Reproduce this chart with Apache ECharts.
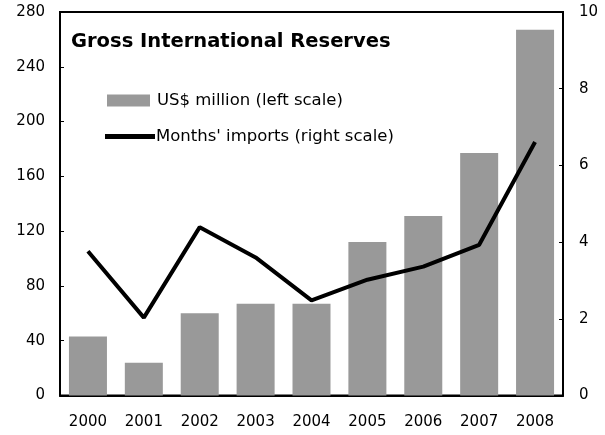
<!DOCTYPE html>
<html>
<head>
  <meta charset="utf-8" />
  <title>Gross International Reserves</title>
  <style>
    html, body { margin: 0; padding: 0; background: #fff; }
    #chart { width: 605px; height: 435px; }
  </style>
</head>
<body>
  <div id="chart"></div>
  <script src="https://cdn.jsdelivr.net/npm/echarts@6/dist/echarts.min.js"></script>
  <script>
    var years = ['2000', '2001', '2002', '2003', '2004', '2005', '2006', '2007', '2008'];
    // US$ million, left scale
    var reserves = [43, 24, 60, 67, 67, 112, 131, 177, 267];
    // months of imports, right scale
    var months = [3.76, 2.03, 4.39, 3.6, 2.48, 3.02, 3.36, 3.93, 6.61];
    var leftTicks = { min: 0, max: 280, interval: 40 };
    var rightTicks = { min: 0, max: 10, interval: 2 };

    var _font = 'DejaVu Sans';
    var _black = '#000';

    var myChart = echarts.init(document.getElementById('chart'));

    var option = {
      animation: false,
      textStyle: { fontFamily: _font },
      title: {
        text: 'Gross International Reserves',
        left: 71,
        top: 32,
        padding: 0,
        textStyle: { fontFamily: _font, fontSize: 19.5, fontWeight: 'bold', color: _black }
      },
      legend: [
        {
          left: 107,
          top: 92,
          padding: 0,
          itemWidth: 43,
          itemHeight: 12,
          data: [{ name: 'US$ million (left scale)', icon: 'rect' }],
          textStyle: { fontFamily: _font, fontSize: 16.5, color: _black, padding: [0, 0, 0, 2] }
        },
        {
          left: 105,
          top: 128,
          padding: 0,
          itemWidth: 50,
          itemHeight: 5,
          data: [{ name: 'Months\' imports (right scale)', icon: 'rect' }],
          itemStyle: { color: _black, borderWidth: 0 },
          textStyle: { fontFamily: _font, fontSize: 16.5, color: _black, padding: [0, 0, 0, -4] }
        }
      ],
      grid: {
        left: 60,
        right: 42,
        top: 12,
        bottom: 39.5,
        show: true,
        borderColor: _black,
        borderWidth: 2,
        backgroundColor: 'transparent'
      },
      xAxis: {
        type: 'category',
        data: years,
        axisLine: { lineStyle: { color: _black, width: 2 } },
        axisTick: { inside: true, length: 4, lineStyle: { color: _black, width: 1 } },
        axisLabel: { color: _black, fontSize: 15, fontFamily: _font, margin: 19 },
        splitLine: { show: false }
      },
      yAxis: [
        {
          type: 'value',
          min: leftTicks.min,
          max: leftTicks.max,
          interval: leftTicks.interval,
          axisLine: { show: true, lineStyle: { color: _black, width: 2 } },
          axisTick: { show: true, inside: true, length: 4, lineStyle: { color: _black, width: 1 } },
          axisLabel: { color: _black, fontSize: 15, fontFamily: _font, margin: 15 },
          splitLine: { show: false }
        },
        {
          type: 'value',
          min: rightTicks.min,
          max: rightTicks.max,
          interval: rightTicks.interval,
          position: 'right',
          axisLine: { show: true, lineStyle: { color: _black, width: 2 } },
          axisTick: { show: true, inside: true, length: 4, lineStyle: { color: _black, width: 1 } },
          axisLabel: { color: _black, fontSize: 15, fontFamily: _font, margin: 16 },
          splitLine: { show: false }
        }
      ],
      series: [
        {
          name: 'US$ million (left scale)',
          type: 'bar',
          yAxisIndex: 0,
          barCategoryGap: '32%',
          itemStyle: { color: '#999999' },
          data: reserves
        },
        {
          name: 'Months\' imports (right scale)',
          type: 'line',
          yAxisIndex: 1,
          symbol: 'none',
          lineStyle: { color: _black, width: 4 },
          itemStyle: { color: _black },
          data: months
        }
      ]
    };

    myChart.setOption(option);
  </script>
</body>
</html>
